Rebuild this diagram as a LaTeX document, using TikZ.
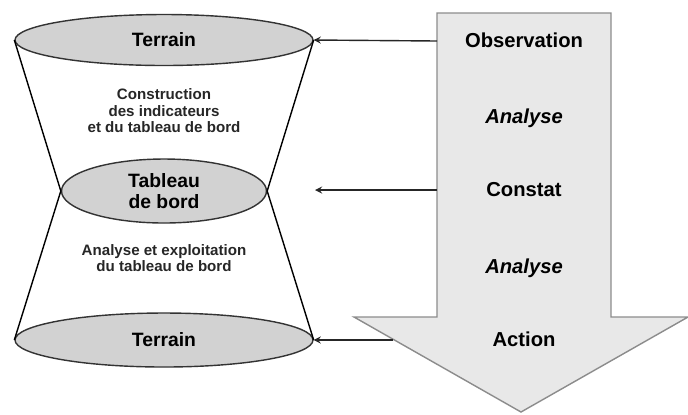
\documentclass[tikz,border=0pt]{standalone}
\usepackage{fontspec}
\setmainfont{Liberation Sans}
\usetikzlibrary{shapes.geometric}

\definecolor{flechegris}{HTML}{E8E8E8}
\definecolor{bordgris}{HTML}{8C8C8C}
\definecolor{ellgris}{HTML}{D2D2D2}

\tikzset{
  ell/.style={ellipse, draw=black!80, fill=ellgris, line width=0.8pt, inner sep=0pt,
              font=\bfseries\fontsize{11}{12}\selectfont, align=center},
  etape/.style={font=\bfseries\fontsize{11.5}{12}\selectfont},
  petit/.style={font=\bfseries\fontsize{8.6}{9.4}\selectfont, align=center, text=black!85}
}

\begin{document}
\begin{tikzpicture}[>=stealth, x=0.02cm, y=-0.02cm]
\useasboundingbox (0,0) rectangle (688,414);

%big arrow
\draw [fill=flechegris, draw=bordgris, line width=0.8pt]
  (437,13)--(611,13)--(611,317)--(688,317)--(521,412)--(354,317)--(437,317)--cycle;

%ellipses
\node [ell, minimum width=5.96cm, minimum height=1.02cm] (T1) at (164,40)  {Terrain};
\node [ell, minimum width=4.1cm,  minimum height=1.28cm] (TB) at (164,191) {Tableau\\de bord};
\node [ell, minimum width=5.96cm, minimum height=1.08cm] (T2) at (164,340) {Terrain};

%cone lines
\draw [line width=0.8pt] (T1.west)--(TB.west);
\draw [line width=0.8pt] (T1.east)--(TB.east);
\draw [line width=0.8pt] (TB.west)--(T2.west);
\draw [line width=0.8pt] (TB.east)--(T2.east);

%labels in the cone
\node [petit] (cons) at (164,111) {Construction\\des indicateurs\\et du tableau de bord};
\node [petit] (expl) at (164,258) {Analyse et exploitation\\du tableau de bord};

%labels in the arrow
\node [etape] (obs)  at (524,40)  {Observation};
\node [etape] (an1)  at (524,118) {\itshape Analyse};
\node [etape] (cst)  at (524,190) {Constat};
\node [etape] (an2)  at (524,268) {\itshape Analyse};
\node [etape] (act)  at (524,339) {Action};

%arrows to the left
\coordinate (s1) at (437,41);
\coordinate (s2) at (437,190);
\coordinate (e2) at (315,190);
\coordinate (s3) at (393,340);
\draw [->, line width=0.8pt, black!85] (s1)--(T1.east);
\draw [->, line width=0.8pt, black!85] (s2)--(e2);
\draw [->, line width=0.8pt, black!85] (s3)--(T2.east);

\end{tikzpicture}
\end{document}
